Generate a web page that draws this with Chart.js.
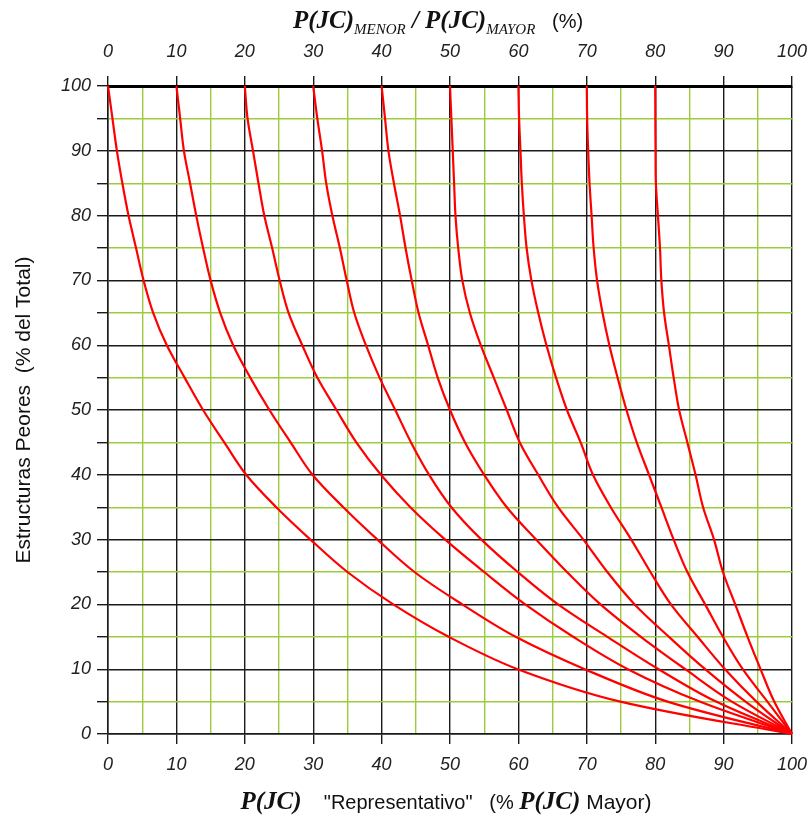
<!DOCTYPE html>
<html>
<head>
<meta charset="utf-8">
<script src="https://cdn.jsdelivr.net/npm/chart.js@4.4.0/dist/chart.umd.min.js"></script>
<style>
  html, body { margin: 0; padding: 0; background: #fff; }
  canvas { display: block; }
</style>
</head>
<body>
<canvas id="chart" width="810" height="816"></canvas>
<script>
// levels of "Estructuras Peores" at which every curve was read
const Y_LEVELS = [100, 95, 90, 85, 80, 75, 70, 65, 60, 55, 50, 45, 40, 35, 30, 25, 20, 15, 10, 5, 0];

// P(JC) representativo read at those levels, one curve per ratio menor/mayor
const CURVE_0  = [0, 0.65, 1.3, 2.1, 3.0, 4.1, 5.2, 6.6, 8.6, 11.2, 13.9, 17.0, 20.2, 24.6, 29.6, 35.0, 41.7, 49.8, 59.9, 74.9, 100];
const CURVE_10 = [10, 10.55, 11.1, 12.0, 12.9, 13.9, 15.0, 16.4, 18.3, 20.8, 23.6, 26.7, 29.9, 34.4, 39.4, 44.8, 51.8, 59.6, 69.7, 81.8, 100];
const CURVE_20 = [20, 20.4, 21.2, 22.0, 22.85, 24.0, 25.1, 26.4, 28.4, 30.6, 33.4, 36.3, 39.9, 44.2, 49.3, 55.0, 61.0, 68.0, 76.0, 86.5, 100];
const CURVE_30 = [30, 30.6, 31.3, 31.9, 32.8, 33.9, 34.9, 36.0, 37.7, 39.7, 42.0, 44.3, 46.95, 50.2, 54.6, 59.9, 65.8, 73.0, 80.5, 88.9, 100];
const CURVE_40 = [40, 40.5, 41.0, 41.8, 42.7, 43.5, 44.4, 45.4, 46.8, 48.2, 50.0, 52.2, 55.0, 58.3, 62.6, 67.1, 72.0, 77.9, 84.4, 91.2, 100];
const CURVE_50 = [50, 50.2, 50.4, 50.6, 50.8, 51.2, 51.8, 52.9, 54.5, 56.4, 58.3, 60.2, 62.9, 65.8, 69.5, 73.0, 77.0, 82.0, 87.3, 93.2, 100];
const CURVE_60 = [60, 60.1, 60.3, 60.5, 60.8, 61.2, 61.9, 62.9, 64.1, 65.5, 67.1, 69.1, 70.9, 73.5, 76.5, 79.3, 82.3, 86.2, 90.2, 94.8, 100];
const CURVE_70 = [70, 70.05, 70.2, 70.4, 70.7, 71.0, 71.5, 72.3, 73.3, 74.5, 75.8, 77.3, 79.1, 80.9, 82.7, 84.7, 87.3, 89.9, 92.8, 96.4, 100];
const CURVE_80 = [80, 80.02, 80.05, 80.1, 80.4, 80.7, 80.9, 81.3, 82.0, 82.7, 83.5, 84.7, 85.9, 87.0, 88.6, 89.9, 91.7, 93.5, 95.4, 97.4, 100];

const CURVES = [CURVE_0, CURVE_10, CURVE_20, CURVE_30, CURVE_40, CURVE_50, CURVE_60, CURVE_70, CURVE_80];
const RATIO_LABELS = ['0', '10', '20', '30', '40', '50', '60', '70', '80'];

const X_TICK_LABELS = [0, 10, 20, 30, 40, 50, 60, 70, 80, 90, 100];
const Y_TICK_LABELS = [0, 10, 20, 30, 40, 50, 60, 70, 80, 90, 100];

const BLACK = '#1a1a1a';
const GREEN = '#9ccc3c';
const TICK_FONT = { family: '"Liberation Sans", Arial, sans-serif', size: 18, style: 'italic' };

const SERIF_BI = 'italic bold 25px "Liberation Serif"';
const SERIF_SUB = 'italic 15px "Liberation Serif"';
const SANS = '20px "Liberation Sans"';

function isMajor(value) {
    return Math.round(value) % 10 === 0;
}

function gridColor(ctx) {
    return isMajor(ctx.tick.value) ? BLACK : GREEN;
}

function drawRuns(ctx, runs, centerX, baseline) {
    let total = 0;
    runs.forEach(run => {
        ctx.font = run.font;
        run.width = ctx.measureText(run.text).width;
        total += run.width;
    });
    let x = centerX - total / 2;
    runs.forEach(run => {
        ctx.font = run.font;
        ctx.fillText(run.text, x, baseline + (run.dy || 0));
        x += run.width;
    });
}

// titles mix a bold serif P(JC) with plain sans text, so they are drawn by hand
const axisTitles = {
    id: 'axisTitles',
    afterDraw(chart) {
        const ctx = chart.ctx;
        ctx.save();
        ctx.fillStyle = '#111';
        ctx.textBaseline = 'alphabetic';
        drawRuns(ctx, [
            { text: 'P(JC)', font: SERIF_BI },
            { text: 'MENOR', font: SERIF_SUB, dy: 6 },
            { text: ' / ', font: SERIF_BI },
            { text: 'P(JC)', font: SERIF_BI },
            { text: 'MAYOR', font: SERIF_SUB, dy: 6 },
            { text: '   (%)', font: SANS }
        ], 438, 28);
        drawRuns(ctx, [
            { text: 'P(JC)', font: SERIF_BI },
            { text: '    "Representativo"   (% ', font: SANS },
            { text: 'P(JC)', font: SERIF_BI },
            { text: ' Mayor)', font: '21px "Liberation Sans"' }
        ], 446, 809);
        ctx.restore();
    }
};

const datasets = CURVES.map((xs, i) => ({
    label: RATIO_LABELS[i],
    data: xs.map((x, j) => ({ x, y: Y_LEVELS[j] })),
    showLine: true,
    borderColor: '#ff0000',
    backgroundColor: '#ff0000',
    borderWidth: 2.2,
    pointRadius: 0,
    tension: 0.35,
    clip: 4
}));

function xTickLabel(value) {
    return X_TICK_LABELS.includes(value) ? String(value) : '';
}

// keep the plot box where the reference has it, whatever the label overhang
function fitHorizontal(height) {
    return scale => {
        scale.height = height;
        scale.paddingLeft = 0;
        scale.paddingRight = 18;
    };
}

new Chart(document.getElementById('chart'), {
    type: 'scatter',
    data: { datasets },
    options: {
        responsive: false,
        animation: false,
        layout: { padding: 0 },
        plugins: {
            legend: { display: false },
            tooltip: { enabled: false }
        },
        scales: {
            x: {
                type: 'linear',
                position: 'bottom',
                min: 0,
                max: 100,
                afterFit: fitHorizontal(82),
                ticks: { stepSize: 5, autoSkip: false, maxRotation: 0, color: '#222', font: TICK_FONT, padding: 10, callback: xTickLabel },
                grid: {
                    color: gridColor,
                    lineWidth: 1.4,
                    tickLength: 10,
                    tickColor: ctx => isMajor(ctx.tick.value) ? BLACK : 'rgba(0,0,0,0)'
                },
                border: { color: BLACK, width: 1.5 }
            },
            x2: {
                type: 'linear',
                position: 'top',
                min: 0,
                max: 100,
                afterFit: fitHorizontal(86),
                ticks: { stepSize: 5, autoSkip: false, maxRotation: 0, color: '#222', font: TICK_FONT, padding: 13, callback: xTickLabel },
                grid: {
                    drawOnChartArea: false,
                    tickLength: 10,
                    lineWidth: 1.4,
                    tickColor: ctx => isMajor(ctx.tick.value) ? BLACK : 'rgba(0,0,0,0)'
                },
                border: { color: '#000', width: 3 }
            },
            y: {
                type: 'linear',
                min: 0,
                max: 100,
                afterFit(scale) {
                    scale.width = 108;
                    scale.paddingTop = 0;
                    scale.paddingBottom = 0;
                },
                ticks: {
                    stepSize: 5,
                    autoSkip: false,
                    color: '#222',
                    font: TICK_FONT,
                    padding: 6,
                    callback: value => Y_TICK_LABELS.includes(value) ? String(value) : ''
                },
                grid: { color: gridColor, lineWidth: 1.4, tickLength: 11, tickColor: BLACK },
                border: { color: BLACK, width: 1.5 },
                title: {
                    display: true,
                    text: 'Estructuras Peores  (% del Total)',
                    color: '#111',
                    font: { family: '"Liberation Sans", Arial, sans-serif', size: 21 },
                    padding: { top: 12, bottom: 0 }
                }
            }
        }
    },
    plugins: [axisTitles]
});
</script>
</body>
</html>
